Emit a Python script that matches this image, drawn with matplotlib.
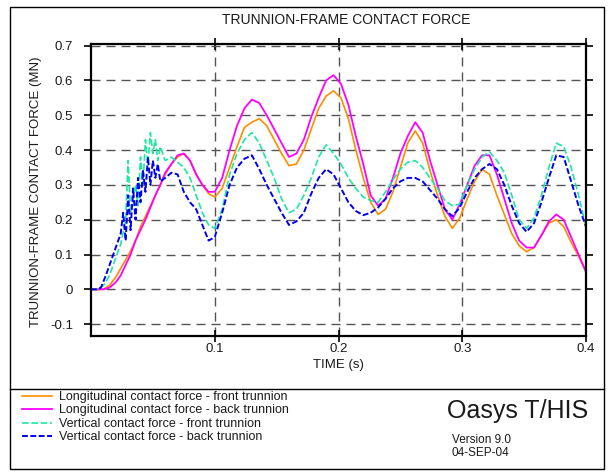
import matplotlib
matplotlib.use('Agg')
import matplotlib.pyplot as plt
from matplotlib.patches import Rectangle
from matplotlib.lines import Line2D

plt.rcParams['font.family'] = ['Liberation Sans', 'DejaVu Sans']

# time grid shared by the two longitudinal curves (s)
t_long = [0, 0.005, 0.010, 0.015, 0.020, 0.024, 0.028, 0.032, 0.036, 0.040, 0.044, 0.048,
          0.052, 0.056, 0.060, 0.065, 0.070, 0.075, 0.080, 0.085, 0.090, 0.095, 0.100,
          0.106, 0.112, 0.118, 0.124, 0.130, 0.136, 0.142, 0.148, 0.154, 0.160, 0.166,
          0.172, 0.178, 0.184, 0.190, 0.196, 0.202, 0.208, 0.214, 0.220, 0.226, 0.232,
          0.238, 0.244, 0.250, 0.256, 0.262, 0.268, 0.274, 0.280, 0.286, 0.292, 0.298,
          0.304, 0.310, 0.316, 0.322, 0.328, 0.334, 0.340, 0.346, 0.352, 0.358, 0.364,
          0.370, 0.376, 0.382, 0.388, 0.394, 0.400]

long_front = [0, 0, 0.0, 0.012, 0.035, 0.06, 0.085, 0.11, 0.14, 0.18, 0.21, 0.24,
              0.27, 0.30, 0.33, 0.36, 0.38, 0.39, 0.37, 0.33, 0.30, 0.275, 0.265,
              0.29, 0.35, 0.41, 0.465, 0.48, 0.49, 0.47, 0.43, 0.39, 0.355, 0.36,
              0.40, 0.46, 0.52, 0.555, 0.57, 0.55, 0.49, 0.40, 0.32, 0.25, 0.215,
              0.23, 0.28, 0.35, 0.42, 0.455, 0.42, 0.34, 0.27, 0.21, 0.175, 0.205,
              0.26, 0.31, 0.345, 0.33, 0.27, 0.215, 0.16, 0.125, 0.108, 0.12, 0.155,
              0.19, 0.20, 0.18, 0.135, 0.095, 0.05]

long_back = [0, 0, 0, 0.005, 0.02, 0.04, 0.07, 0.10, 0.14, 0.17, 0.20, 0.235,
             0.27, 0.30, 0.335, 0.36, 0.385, 0.39, 0.37, 0.33, 0.30, 0.28, 0.28,
             0.32, 0.40, 0.47, 0.52, 0.545, 0.535, 0.50, 0.46, 0.42, 0.38, 0.39,
             0.43, 0.495, 0.55, 0.60, 0.615, 0.59, 0.53, 0.44, 0.36, 0.27, 0.24,
             0.26, 0.32, 0.39, 0.44, 0.48, 0.45, 0.37, 0.30, 0.23, 0.20, 0.245,
             0.30, 0.355, 0.385, 0.385, 0.33, 0.26, 0.19, 0.14, 0.12, 0.12, 0.155,
             0.195, 0.215, 0.20, 0.15, 0.10, 0.05]

t_vert_front = [0, 0.005, 0.010, 0.015, 0.020, 0.024, 0.028, 0.030, 0.032, 0.036, 0.038,
                0.040, 0.042, 0.044, 0.046, 0.048, 0.050, 0.052, 0.054, 0.056, 0.060,
                0.065, 0.070, 0.075, 0.080, 0.085, 0.090, 0.095, 0.100, 0.106, 0.112,
                0.118, 0.124, 0.130, 0.136, 0.142, 0.148, 0.154, 0.160, 0.166, 0.172,
                0.178, 0.184, 0.190, 0.196, 0.202, 0.208, 0.214, 0.220, 0.226, 0.232,
                0.238, 0.244, 0.250, 0.256, 0.262, 0.268, 0.274, 0.280, 0.286, 0.292,
                0.298, 0.304, 0.310, 0.316, 0.322, 0.328, 0.334, 0.340, 0.346, 0.352,
                0.358, 0.364, 0.370, 0.376, 0.382, 0.388, 0.394, 0.400]
vert_front = [0, 0, 0.01, 0.04, 0.09, 0.13, 0.20, 0.37, 0.22, 0.30, 0.24,
              0.38, 0.30, 0.43, 0.36, 0.45, 0.39, 0.43, 0.37, 0.41, 0.37,
              0.38, 0.365, 0.35, 0.32, 0.27, 0.22, 0.185, 0.175, 0.23, 0.33,
              0.39, 0.43, 0.45, 0.42, 0.37, 0.32, 0.26, 0.22, 0.23, 0.27,
              0.32, 0.38, 0.415, 0.39, 0.36, 0.32, 0.29, 0.265, 0.255, 0.25,
              0.28, 0.315, 0.345, 0.365, 0.37, 0.35, 0.32, 0.29, 0.255, 0.24,
              0.245, 0.30, 0.345, 0.38, 0.395, 0.37, 0.335, 0.27, 0.20, 0.175,
              0.205, 0.27, 0.35, 0.42, 0.41, 0.35, 0.27, 0.18]

t_vert_back = [0, 0.005, 0.008, 0.012, 0.016, 0.020, 0.024, 0.026, 0.028, 0.030, 0.032,
               0.034, 0.036, 0.038, 0.040, 0.042, 0.044, 0.046, 0.048, 0.050, 0.052,
               0.054, 0.056, 0.060, 0.065, 0.070, 0.075, 0.080, 0.085, 0.090, 0.095,
               0.100, 0.106, 0.112, 0.118, 0.124, 0.130, 0.136, 0.142, 0.148, 0.154,
               0.160, 0.166, 0.172, 0.178, 0.184, 0.190, 0.196, 0.202, 0.208, 0.214,
               0.220, 0.226, 0.232, 0.238, 0.244, 0.250, 0.256, 0.262, 0.268, 0.274,
               0.280, 0.286, 0.292, 0.298, 0.304, 0.310, 0.316, 0.322, 0.328, 0.334,
               0.340, 0.346, 0.352, 0.358, 0.364, 0.370, 0.376, 0.382, 0.388, 0.394,
               0.400]
vert_back = [0, 0, 0.005, 0.04, 0.08, 0.12, 0.16, 0.22, 0.14, 0.27, 0.17,
             0.29, 0.20, 0.32, 0.25, 0.34, 0.28, 0.38, 0.30, 0.37, 0.32,
             0.36, 0.31, 0.32, 0.335, 0.33, 0.28, 0.25, 0.23, 0.185, 0.14,
             0.15, 0.22, 0.30, 0.35, 0.375, 0.385, 0.345, 0.30, 0.26, 0.22,
             0.185, 0.195, 0.22, 0.275, 0.32, 0.345, 0.33, 0.29, 0.25, 0.225,
             0.213, 0.22, 0.235, 0.26, 0.29, 0.31, 0.32, 0.32, 0.31, 0.285,
             0.26, 0.23, 0.21, 0.235, 0.28, 0.32, 0.345, 0.36, 0.345, 0.30,
             0.24, 0.19, 0.165, 0.19, 0.25, 0.32, 0.385, 0.38, 0.31, 0.24,
             0.18]

labels = ['Longitudinal contact force - front trunnion',
          'Longitudinal contact force - back trunnion',
          'Vertical contact force - front trunnion',
          'Vertical contact force - back trunnion']
x_ticks = [0.1, 0.2, 0.3, 0.4]
y_ticks = [-0.1, 0, 0.1, 0.2, 0.3, 0.4, 0.5, 0.6, 0.7]
y_ticklabels = ['-0.1', '0', '0.1', '0.2', '0.3', '0.4', '0.5', '0.6', '0.7']

txt = '#1a1a1a'
W, H = 614, 472
fig = plt.figure(figsize=(W / 100, H / 100), dpi=100)
ax = fig.add_axes([91 / W, 1 - 336 / H, 495 / W, 292.5 / H])

l1, = ax.plot(t_long, long_front, color='#ff8c00', lw=1.2)
l2, = ax.plot(t_long, long_back, color='#ff00ff', lw=1.3)
l3, = ax.plot(t_vert_front, vert_front, color='#1ee8a0', lw=1.2, linestyle=(0, (4, 1.6)))
l4, = ax.plot(t_vert_back, vert_back, color='#0000ee', lw=1.4, linestyle=(0, (3, 1.3)))

ax.set_xlim(0, 0.4)
ax.set_ylim(-0.134, 0.706)
ax.set_xticks(x_ticks)
ax.set_xticklabels(['0.1', '0.2', '0.3', '0.4'])
ax.set_yticks(y_ticks)
ax.set_yticklabels(y_ticklabels)
ax.grid(True, linestyle=(0, (6.5, 4.3)), color='#555555', linewidth=1.0)

for s in ax.spines.values():
    s.set_linewidth(1.6)
ax.tick_params(axis='y', which='both', direction='out', length=5, width=1.2,
               right=True, labelsize=9.5, labelcolor=txt, pad=8)
ax.tick_params(axis='x', which='both', direction='inout', length=8, width=1.2,
               top=True, labelsize=9.5, labelcolor=txt, pad=1)

fig.text(346 / W, 1 - 20 / H, 'TRUNNION-FRAME CONTACT FORCE', ha='center', va='center',
         fontsize=10, color=txt)
fig.text(338 / W, 1 - 365 / H, 'TIME (s)', ha='center', va='center', fontsize=9.5, color=txt)
fig.text(36 / W, 1 - 192 / H, 'TRUNNION-FRAME CONTACT FORCE (MN)', ha='center', va='center',
         rotation=90, fontsize=9.5, color=txt)

# outer frame and separator
fig.patches.append(Rectangle((10 / W, 1 - 469 / H), 594 / W, 462 / H, transform=fig.transFigure,
                             fill=False, ec='black', lw=1.0))
fig.lines.append(Line2D([10 / W, 604 / W], [1 - 389 / H] * 2, transform=fig.transFigure,
                        color='black', lw=1.0))

fig.legend([l1, l2, l3, l4], labels, loc='upper left', bbox_to_anchor=(22 / W, 1 - 391 / H),
           frameon=False, fontsize=9, handlelength=2.4, handletextpad=0.55,
           labelspacing=0.12, borderpad=0, borderaxespad=0, labelcolor=txt)

fig.text(447 / W, 1 - 411 / H, 'Oasys T/HIS', ha='left', va='center', fontsize=18, color=txt)
fig.text(452 / W, 1 - 440 / H, 'Version 9.0', ha='left', va='center', fontsize=8.5, color=txt)
fig.text(452 / W, 1 - 453 / H, '04-SEP-04', ha='left', va='center', fontsize=8.5, color=txt)

fig.savefig('out.png', dpi=100)
